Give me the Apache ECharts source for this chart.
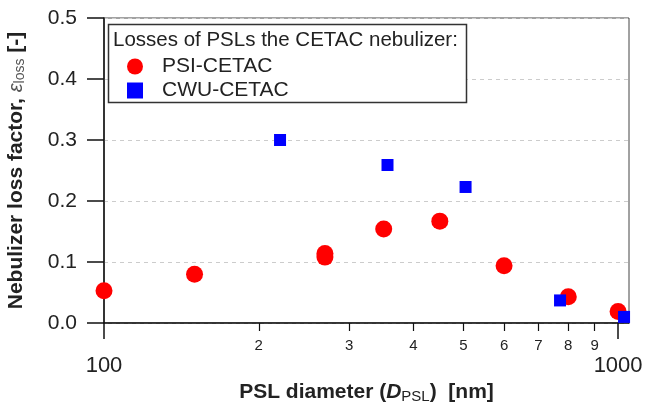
<!DOCTYPE html>
<html>
<head>
<meta charset="utf-8">
<script src="https://cdn.jsdelivr.net/npm/echarts@6/dist/echarts.min.js"></script>
<style>
  html, body { margin: 0; padding: 0; background: #fff; }
  #chart { width: 646px; height: 403px; }
</style>
</head>
<body>
<div id="chart"></div>
<script>
// PSL diameter [nm] and loss factor
const psiDiameter = [100, 150, 269, 269, 350, 450, 600, 800, 1000]
const psiLoss = [0.053, 0.080, 0.108, 0.114, 0.154, 0.167, 0.094, 0.043, 0.019]
const cwuDiameter = [220, 356, 505, 771, 1027]
const cwuLoss = [0.300, 0.259, 0.223, 0.037, 0.010]

const majorTicks = [100, 1000]
const minorTicks = [200, 300, 400, 500, 600, 700, 800, 900]

const font = 'Liberation Sans, Arial, sans-serif'
const ink = '#222'

let chart = echarts.init(document.getElementById('chart'))

function pairs(xs, ys) {
    let out = []
    for (let i = 0; i < xs.length; i++) {
        out.push([xs[i], ys[i]])
    }
    return out
}

chart.setOption({
    animation: false,
    textStyle: { fontFamily: font },
    grid: {
        left: 104,
        right: 17,
        top: 18,
        bottom: 80,
        containLabel: false,
        outerBoundsMode: 'none',
        show: true,
        borderColor: '#444',
        borderWidth: 1
    },
    xAxis: [
        {
            type: 'log',
            position: 'bottom',
            min: 100,
            max: 1050,
            name: '{b|PSL diameter (}{d|D}{s|PSL}{b|)  [nm]}',
            nameLocation: 'middle',
            nameGap: 56,
            nameTextStyle: {
                rich: {
                    b: { fontFamily: font, fontSize: 21, fontWeight: 'bold', color: ink },
                    d: { fontFamily: font, fontSize: 21, fontWeight: 'bold', fontStyle: 'italic', color: ink },
                    s: { fontFamily: font, fontSize: 15, color: ink, padding: [8, 0, 0, 0] }
                }
            },
            axisLine: { show: true, onZero: false, lineStyle: { color: '#111', width: 1.5 } },
            axisTick: { show: true, inside: false, length: 16, customValues: majorTicks, lineStyle: { color: '#111', width: 1.5 } },
            axisLabel: {
                customValues: majorTicks,
                fontSize: 22,
                color: ink,
                margin: 32,
                formatter: (v) => String(Math.round(v))
            },
            splitLine: { show: false }
        },
        {
            type: 'log',
            position: 'bottom',
            min: 100,
            max: 1050,
            axisLine: { show: false, onZero: false },
            axisTick: { show: true, length: 8, customValues: minorTicks, lineStyle: { color: '#111', width: 1.2 } },
            axisLabel: {
                customValues: minorTicks,
                fontSize: 15,
                color: ink,
                margin: 15,
                formatter: (v) => String(Math.round(v / 100))
            },
            splitLine: { show: false }
        }
    ],
    yAxis: {
        type: 'value',
        min: 0,
        max: 0.5,
        interval: 0.1,
        name: '{b|Nebulizer loss factor, }{e|ε}{s|loss}{b| [-]}',
        nameLocation: 'middle',
        nameGap: 77,
        nameTextStyle: {
            rich: {
                b: { fontFamily: font, fontSize: 21, fontWeight: 'bold', color: ink },
                e: { fontFamily: font, fontSize: 20, fontStyle: 'italic', color: '#555' },
                s: { fontFamily: font, fontSize: 14, color: '#555', padding: [8, 0, 0, 0] }
            }
        },
        axisLine: { show: true, lineStyle: { color: '#111', width: 1.5 } },
        axisTick: { show: true, length: 17, lineStyle: { color: '#111', width: 1.5 } },
        axisLabel: {
            fontSize: 21,
            color: ink,
            margin: 27,
            formatter: (v) => v.toFixed(1)
        },
        splitLine: { show: true, lineStyle: { color: '#ccc', type: [4, 4], width: 1 } }
    },
    legend: {
        data: ['PSI-CETAC', 'CWU-CETAC'],
        orient: 'vertical',
        left: 122,
        top: 51,
        itemWidth: 16,
        itemHeight: 16,
        itemGap: 3,
        z: 6,
        textStyle: { fontSize: 21, color: ink, fontFamily: font, padding: [0, 0, 0, 14] }
    },
    graphic: [
        {
            type: 'rect',
            z: 5,
            shape: { x: 108.5, y: 24.5, width: 358, height: 78 },
            style: { fill: '#fff', stroke: '#333', lineWidth: 1.5 }
        },
        {
            type: 'text',
            z: 6,
            x: 113,
            y: 40,
            style: {
                text: 'Losses of PSLs the CETAC nebulizer:',
                fontFamily: font,
                fontSize: 20.5,
                fill: ink,
                verticalAlign: 'middle'
            }
        }
    ],
    series: [
        {
            name: 'PSI-CETAC',
            type: 'scatter',
            xAxisIndex: 0,
            symbol: 'circle',
            symbolSize: 17,
            clip: false,
            itemStyle: { color: '#ff0000', opacity: 1 },
            data: pairs(psiDiameter, psiLoss)
        },
        {
            name: 'CWU-CETAC',
            type: 'scatter',
            xAxisIndex: 0,
            symbol: 'rect',
            symbolSize: 12,
            clip: false,
            itemStyle: { color: '#0000ff', opacity: 1 },
            data: pairs(cwuDiameter, cwuLoss)
        }
    ]
})
</script>
</body>
</html>
